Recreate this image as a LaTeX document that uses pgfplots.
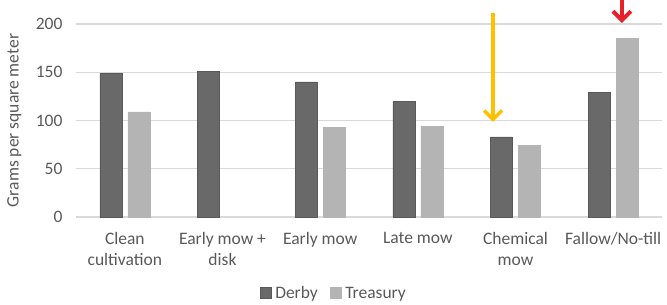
\documentclass[border=0pt]{standalone}
\usepackage{fontspec}
\setmainfont{Carlito}
\usepackage{pgfplots}
\pgfplotsset{compat=1.18}
\usetikzlibrary{arrows.meta}
\definecolor{derby}{HTML}{696969}
\definecolor{treas}{HTML}{B4B4B4}
\definecolor{gridc}{HTML}{D9D9D9}
\definecolor{txt}{HTML}{595959}
\definecolor{orng}{HTML}{FFC000}
\definecolor{redd}{HTML}{E8202A}
\begin{document}
\begin{tikzpicture}
\useasboundingbox (-76pt,-88pt) rectangle (591pt,217pt);
\begin{axis}[
  at={(0,0)}, anchor=south west,
  scale only axis, width=586pt, height=193pt,
  xmin=-0.5, xmax=5.5, ymin=0, ymax=200,
  ybar, bar width=22pt,
  xtick={0,1,2,3,4,5},
  xticklabels={Clean\\cultivation, Early mow +\\disk, Early mow, Late mow, Chemical\\mow, Fallow/No-till},
  xticklabel style={align=center, font=\fontsize{17.5}{21}\selectfont, text=txt, yshift=-12pt},
  ytick={0,50,100,150,200},
  yticklabel style={font=\fontsize{17.5}{21}\selectfont, text=txt, xshift=-10pt},
  /pgf/number format/assume math mode=true,
  major tick length=0pt,
  axis line style={draw=none},
  ymajorgrids, grid style={gridc, line width=1.2pt},
  ylabel={Grams per square meter},
  ylabel style={font=\fontsize{17.5}{21}\selectfont, text=txt, at={(axis description cs:-0.087,0.5)}, anchor=south},
  clip=false,
  legend columns=2,
  legend style={draw=none, fill=none, at={(0.44,-0.395)}, anchor=center, font=\fontsize{17.5}{21}\selectfont, text=txt,
    /tikz/every odd column/.append style={column sep=2pt},
    /tikz/every even column/.append style={column sep=10pt}},
  legend image code/.code={\fill[#1] (0pt,-4.5pt) rectangle (11pt,6.5pt);},
]
\addplot[fill=derby, draw=derby!85!black, bar shift=-14pt] coordinates {(0,149) (1,151) (2,140) (3,120) (4,83) (5,129)};
\addlegendentry{Derby}
\addplot[fill=treas, draw=treas, bar shift=14pt] coordinates {(0,109) (2,93) (3,94) (4,74) (5,185)};
\addlegendentry{Treasury}
\draw[orng, line width=3.5pt, -{Straight Barb[length=9pt,width=18pt,line width=3.5pt]}] (axis cs:3.77,211.6) -- (axis cs:3.77,98.5);
\draw[redd, line width=4pt, -{Straight Barb[length=9pt,width=18pt,line width=4pt]}] (axis cs:5.09,232) -- (axis cs:5.09,201);
\end{axis}
\end{tikzpicture}
\end{document}
